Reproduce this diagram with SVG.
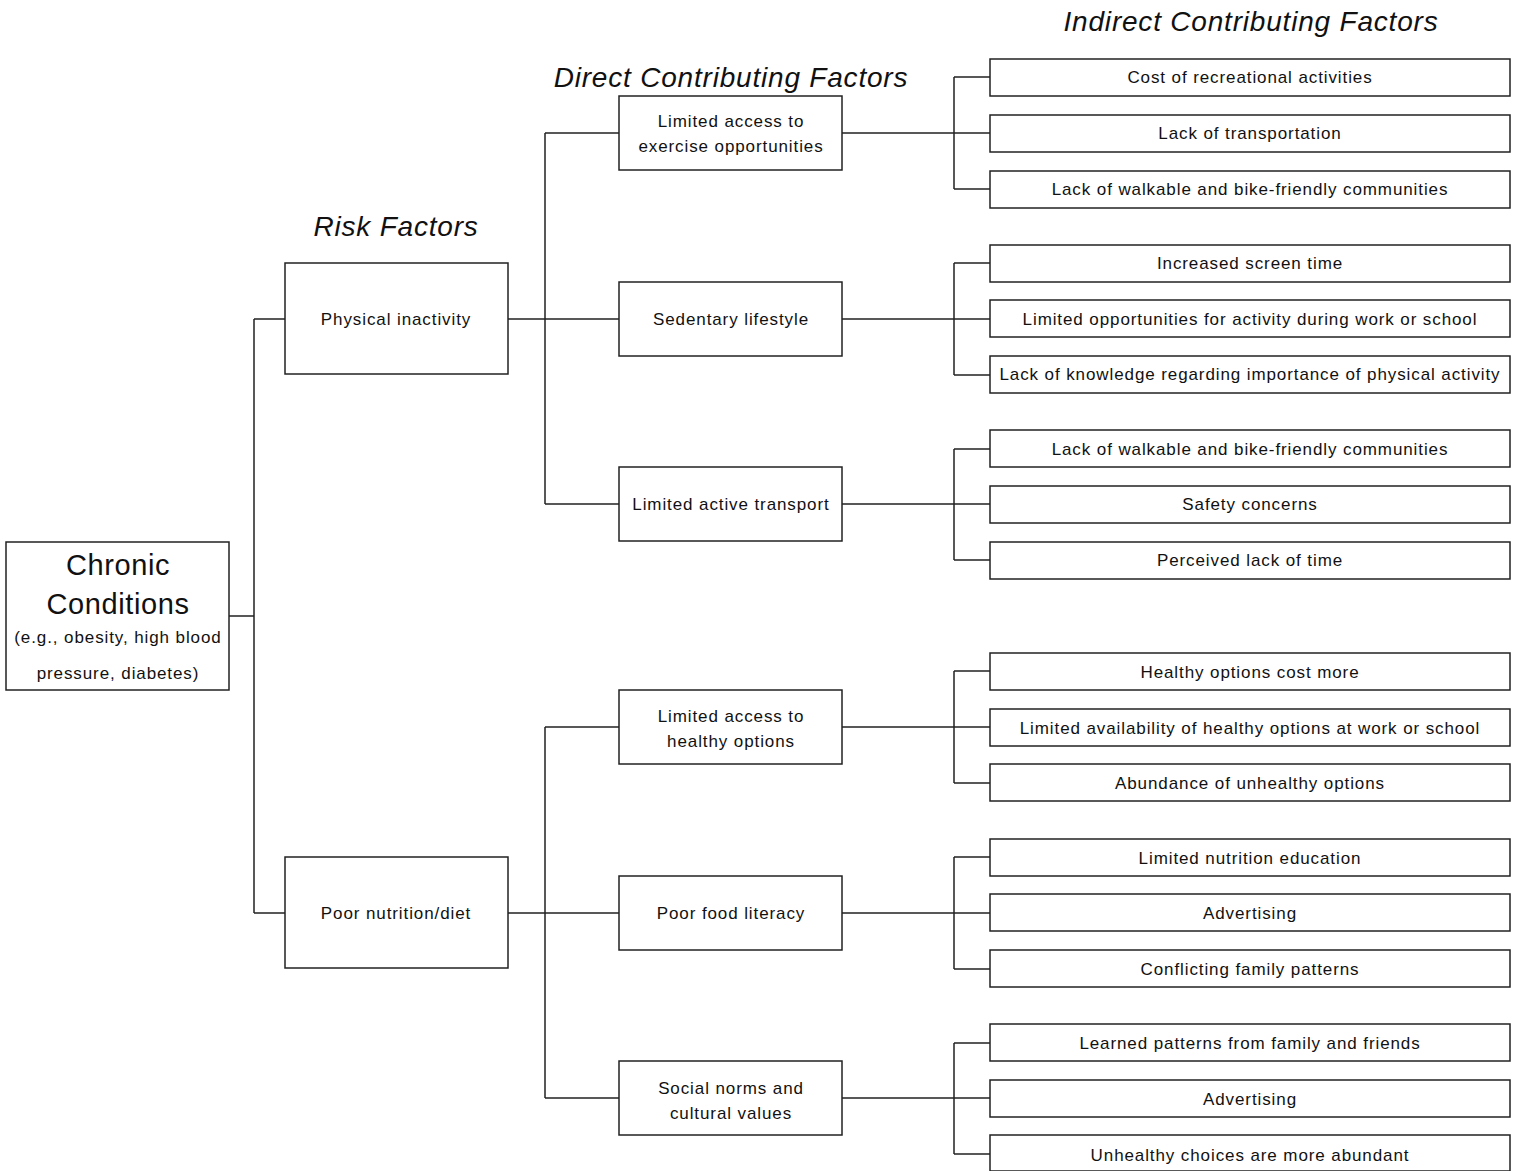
<svg xmlns="http://www.w3.org/2000/svg" width="1518" height="1171" viewBox="0 0 1518 1171">
<style>
rect{fill:#fff;stroke:#222;stroke-width:1.5}
text{font-family:"Liberation Sans",Arial,sans-serif;font-size:17px;letter-spacing:0.9px;fill:#111;text-anchor:middle}
.h{font-size:28px;font-style:italic;letter-spacing:0.8px}
.big{font-size:29px;letter-spacing:0.6px}
#connectors path{fill:none;stroke:#222;stroke-width:1.5}
</style>
<rect x="0" y="0" width="1518" height="1171" style="fill:#fff;stroke:none"/>
<text class="h" x="396" y="236">Risk Factors</text>
<text class="h" x="731" y="87">Direct Contributing Factors</text>
<text class="h" x="1251" y="31">Indirect Contributing Factors</text>
<g id="connectors">
<path d="M229,616H254M254,319V913M254,319H285M254,913H285"/>
<path d="M508,319H545M545,133V504M545,133H619M545,319H619M545,504H619"/>
<path d="M508,913H545M545,727V1098M545,727H619M545,913H619M545,1098H619"/>
<path d="M842,133H954M954,77V189M954,77H990M954,133H990M954,189H990"/>
<path d="M842,319H954M954,263V375M954,263H990M954,319H990M954,375H990"/>
<path d="M842,504H954M954,449V560M954,449H990M954,504H990M954,560H990"/>
<path d="M842,727H954M954,671V783M954,671H990M954,727H990M954,783H990"/>
<path d="M842,913H954M954,857V969M954,857H990M954,913H990M954,969H990"/>
<path d="M842,1098H954M954,1043V1154M954,1043H990M954,1098H990M954,1154H990"/>
</g>
<g id="chronic"><rect x="6" y="542" width="223" height="148"/>
<text class="big" x="118" y="575">Chronic</text><text class="big" x="118" y="614">Conditions</text>
<text x="118" y="643">(e.g., obesity, high blood</text><text x="118" y="679">pressure, diabetes)</text></g>
<g id="physical"><rect x="285" y="263" width="223" height="111"/><text x="396" y="325">Physical inactivity</text></g>
<g id="nutrition"><rect x="285" y="857" width="223" height="111"/><text x="396" y="919">Poor nutrition/diet</text></g>
<g id="d1"><rect x="619" y="96" width="223" height="74"/><text x="731" y="127">Limited access to</text><text x="731" y="152">exercise opportunities</text></g>
<g id="d2"><rect x="619" y="282" width="223" height="74"/><text x="731" y="325">Sedentary lifestyle</text></g>
<g id="d3"><rect x="619" y="467" width="223" height="74"/><text x="731" y="510">Limited active transport</text></g>
<g id="d4"><rect x="619" y="690" width="223" height="74"/><text x="731" y="722">Limited access to</text><text x="731" y="747">healthy options</text></g>
<g id="d5"><rect x="619" y="876" width="223" height="74"/><text x="731" y="919">Poor food literacy</text></g>
<g id="d6"><rect x="619" y="1061" width="223" height="74"/><text x="731" y="1094">Social norms and</text><text x="731" y="1119">cultural values</text></g>
<g id="i1"><rect x="990" y="59" width="520" height="37"/><text x="1250" y="83">Cost of recreational activities</text></g>
<g id="i2"><rect x="990" y="115" width="520" height="37"/><text x="1250" y="139">Lack of transportation</text></g>
<g id="i3"><rect x="990" y="171" width="520" height="37"/><text x="1250" y="195">Lack of walkable and bike-friendly communities</text></g>
<g id="i4"><rect x="990" y="245" width="520" height="37"/><text x="1250" y="269">Increased screen time</text></g>
<g id="i5"><rect x="990" y="300" width="520" height="37"/><text x="1250" y="325">Limited opportunities for activity during work or school</text></g>
<g id="i6"><rect x="990" y="356" width="520" height="37"/><text x="1250" y="380">Lack of knowledge regarding importance of physical activity</text></g>
<g id="i7"><rect x="990" y="430" width="520" height="37"/><text x="1250" y="455">Lack of walkable and bike-friendly communities</text></g>
<g id="i8"><rect x="990" y="486" width="520" height="37"/><text x="1250" y="510">Safety concerns</text></g>
<g id="i9"><rect x="990" y="542" width="520" height="37"/><text x="1250" y="566">Perceived lack of time</text></g>
<g id="i10"><rect x="990" y="653" width="520" height="37"/><text x="1250" y="678">Healthy options cost more</text></g>
<g id="i11"><rect x="990" y="709" width="520" height="37"/><text x="1250" y="734">Limited availability of healthy options at work or school</text></g>
<g id="i12"><rect x="990" y="764" width="520" height="37"/><text x="1250" y="789">Abundance of unhealthy options</text></g>
<g id="i13"><rect x="990" y="839" width="520" height="37"/><text x="1250" y="864">Limited nutrition education</text></g>
<g id="i14"><rect x="990" y="894" width="520" height="37"/><text x="1250" y="919">Advertising</text></g>
<g id="i15"><rect x="990" y="950" width="520" height="37"/><text x="1250" y="975">Conflicting family patterns</text></g>
<g id="i16"><rect x="990" y="1024" width="520" height="37"/><text x="1250" y="1049">Learned patterns from family and friends</text></g>
<g id="i17"><rect x="990" y="1080" width="520" height="37"/><text x="1250" y="1105">Advertising</text></g>
<g id="i18"><rect x="990" y="1135" width="520" height="36"/><text x="1250" y="1161">Unhealthy choices are more abundant</text></g>
</svg>
